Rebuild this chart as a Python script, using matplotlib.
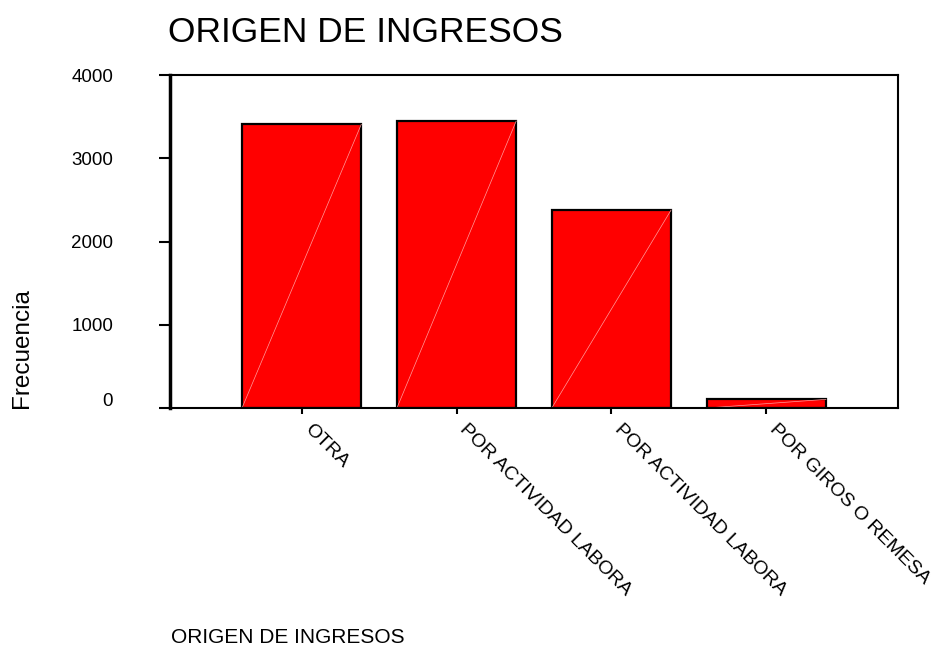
import matplotlib
matplotlib.use("Agg")
import matplotlib.pyplot as plt
import matplotlib.transforms as mtransforms

plt.rcParams['font.family'] = ['Liberation Sans', 'DejaVu Sans']

categorias = ['OTRA', 'POR ACTIVIDAD LABORA', 'POR ACTIVIDAD LABORA', 'POR GIROS O REMESA']
frecuencia = [3408, 3447, 2378, 104]
yticks = [0, 1000, 2000, 3000, 4000]

fig = plt.figure(figsize=(9.32, 6.48), dpi=100)
ax = fig.add_axes([170/932, 1-408/648, 728/932, 333/648])

pos = list(range(len(categorias)))
ancho = 0.77
ax.bar(pos, frecuencia, width=ancho, color='#ff0000', edgecolor='black', linewidth=1.6)
# linea diagonal clara dentro de cada barra
for p, v in zip(pos, frecuencia):
    ax.plot([p - ancho/2, p + ancho/2], [0, v], color='#ff9c9c', lw=0.5)

ax.set_xlim(-0.85, 3.85)
ax.set_ylim(0, 4000)
ax.set_yticks(yticks)
ax.set_yticklabels([str(t) for t in yticks], fontsize=13.5)
ax.set_xticks(pos)
ax.set_xticklabels(categorias, rotation=-45, ha='left', va='top', fontsize=14)

ax.tick_params(axis='y', length=8, width=1.5, pad=33)
ax.tick_params(axis='x', length=4, width=1.5, pad=5)
for s in ['top', 'bottom', 'right']:
    ax.spines[s].set_linewidth(1.5)
ax.spines['left'].set_linewidth(2.5)

# el 0 va un poco mas arriba
lbl0 = ax.get_yticklabels()[0]
lbl0.set_transform(lbl0.get_transform() + mtransforms.ScaledTranslation(0, 8/100, fig.dpi_scale_trans))

fig.text(168/932, 1-42/648, 'ORIGEN DE INGRESOS', fontsize=25.5, ha='left', va='baseline')
fig.text(22/932, 1-348/648, 'Frecuencia', fontsize=17.5, rotation=90, ha='center', va='center')
fig.text(171/932, 1-643/648, 'ORIGEN DE INGRESOS', fontsize=15, ha='left', va='baseline')

fig.savefig('out.png', dpi=100)
